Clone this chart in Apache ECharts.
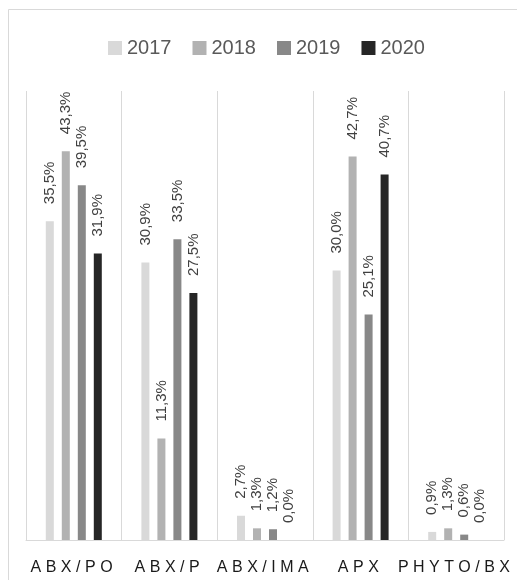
<!DOCTYPE html>
<html>
<head>
<meta charset="utf-8">
<style>
  html, body { margin: 0; padding: 0; background: #ffffff; }
  #chart { width: 517px; height: 580px; }
</style>
<script src="https://cdn.jsdelivr.net/npm/echarts@6/dist/echarts.min.js"></script>
</head>
<body>
<div id="chart"></div>
<script>
// Share of products by category and year (%)
const categories = ['ABX/PO', 'ABX/P', 'ABX/IMA', 'APX', 'PHYTO/BX'];
const years = ['2017', '2018', '2019', '2020'];
const values2017 = [35.5, 30.9, 2.7, 30.0, 0.9];
const values2018 = [43.3, 11.3, 1.3, 42.7, 1.3];
const values2019 = [39.5, 33.5, 1.2, 25.1, 0.6];
const values2020 = [31.9, 27.5, 0.0, 40.7, 0.0];
const seriesValues = [values2017, values2018, values2019, values2020];
const colors = ['#d9d9d9', '#b2b2b2', '#888888', '#262626'];

// Category labels are drawn with wider letter spacing; every other text uses none
const spacedLabels = new Set(categories);
const baseFillText = CanvasRenderingContext2D.prototype.fillText;
CanvasRenderingContext2D.prototype.fillText = function (text, x, y, maxWidth) {
  if ('letterSpacing' in this) {
    const want = spacedLabels.has(text) ? '4.5px' : '0px';
    if (this.letterSpacing !== want) {
      const f = this.font;
      this.letterSpacing = want;
      this.font = f;
    }
  }
  return maxWidth === undefined ? baseFillText.call(this, text, x, y) : baseFillText.call(this, text, x, y, maxWidth);
};

const fontFamily = '"Liberation Sans", Arial, sans-serif';
const fmt = v => v.toFixed(1).replace('.', ',') + '%';

const chart = echarts.init(document.getElementById('chart'), null, { renderer: 'canvas' });
chart.setOption({
  animation: false,
  backgroundColor: '#ffffff',
  graphic: [{
    type: 'rect',
    shape: { x: 8.5, y: 9.5, width: 700, height: 700 },
    style: { fill: null, stroke: '#d9d9d9', lineWidth: 1 },
    silent: true
  }],
  legend: {
    left: 108,
    top: 38,
    padding: 0,
    itemWidth: 14,
    itemHeight: 14,
    itemGap: 21,
    icon: 'rect',
    textStyle: { fontFamily, fontSize: 20, color: '#595959', padding: [0, 0, 0, 0] },
    data: years
  },
  grid: { left: 26, right: 13, top: 91, bottom: 40, containLabel: false },
  xAxis: {
    type: 'category',
    data: categories,
    axisLine: { show: true, lineStyle: { color: '#d9d9d9', width: 1 } },
    axisTick: { show: false },
    splitLine: { show: true, lineStyle: { color: '#d9d9d9', width: 1 } },
    axisLabel: { fontFamily, fontSize: 16, color: '#1a1a1a', margin: 20, interval: 0 }
  },
  yAxis: {
    type: 'value',
    min: 0,
    max: 50,
    show: false,
    splitLine: { show: false }
  },
  series: years.map((y, i) => ({
    name: y,
    type: 'bar',
    data: seriesValues[i],
    barWidth: 8,
    barGap: '100%',
    itemStyle: { color: colors[i] },
    label: {
      show: true,
      position: 'top',
      rotate: 90,
      align: 'left',
      verticalAlign: 'middle',
      distance: 17,
      fontFamily,
      fontSize: 15,
      color: '#404040',
      formatter: p => fmt(p.value)
    }
  }))
});
</script>
</body>
</html>
